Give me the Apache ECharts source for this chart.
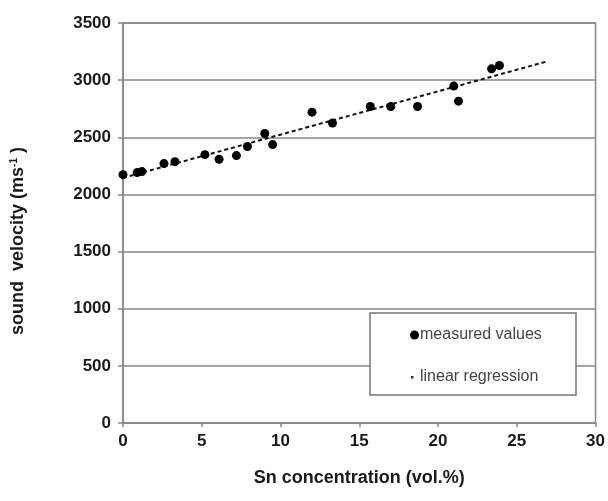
<!DOCTYPE html>
<html>
<head>
<meta charset="utf-8">
<script src="https://cdn.jsdelivr.net/npm/echarts@6/dist/echarts.min.js"></script>
<style>
  html, body { margin: 0; padding: 0; background: #fff; }
  #chart { width: 608px; height: 501px; }
</style>
</head>
<body>
<div id="chart"></div>
<script>
// measured points: Sn content (vol.%) and sound velocity (m/s)
const snContent = [0.0, 0.9, 1.2, 2.6, 3.3, 5.2, 6.1, 7.2, 7.9, 9.0, 9.5, 12.0, 13.3, 15.7, 17.0, 18.7, 21.0, 21.3, 23.4, 23.9]
const soundVelocity = [2173, 2191, 2200, 2270, 2287, 2348, 2308, 2340, 2419, 2533, 2436, 2720, 2624, 2769, 2769, 2769, 2948, 2816, 3099, 3128]

// regression line end points as drawn
const fitX = [0, 26.9]
const fitY = [2145, 3163]

const labelFont = 'Liberation Sans, Arial, sans-serif'
const gridColor = '#878787'

const chart = echarts.init(document.getElementById('chart'))

chart.setOption({
  animation: false,
  grid: {
    left: 123,
    right: 12,
    top: 23,
    bottom: 78,
    show: true,
    borderColor: gridColor,
    borderWidth: 1.5
  },
  xAxis: {
    type: 'value',
    min: 0,
    max: 30,
    interval: 5,
    name: 'Sn concentration (vol.%)',
    nameLocation: 'middle',
    nameGap: 46,
    nameTextStyle: {
      fontFamily: labelFont,
      fontWeight: 'bold',
      fontSize: 18,
      color: '#1a1a1a'
    },
    axisLine: { lineStyle: { color: gridColor, width: 1.5 } },
    axisTick: { show: true, length: 4, lineStyle: { color: gridColor, width: 1.5 } },
    axisLabel: {
      margin: 10,
      fontFamily: labelFont,
      fontWeight: 'bold',
      fontSize: 17,
      color: '#1a1a1a'
    },
    splitLine: { show: false }
  },
  yAxis: {
    type: 'value',
    min: 0,
    max: 3500,
    interval: 500,
    name: 'sound  velocity (ms{sup|-1} )',
    nameLocation: 'middle',
    nameGap: 95,
    nameTextStyle: {
      fontFamily: labelFont,
      fontWeight: 'bold',
      fontSize: 18,
      color: '#1a1a1a',
      padding: [0, 36, 0, 0],
      rich: {
        sup: {
          fontFamily: labelFont,
          fontWeight: 'bold',
          fontSize: 10,
          color: '#1a1a1a',
          padding: [0, 0, 9, 0]
        }
      }
    },
    axisLine: { show: true, lineStyle: { color: gridColor, width: 1.5 } },
    axisTick: { show: true, length: 5, lineStyle: { color: gridColor, width: 1.5 } },
    axisLabel: {
      margin: 12,
      fontFamily: labelFont,
      fontWeight: 'bold',
      fontSize: 17,
      color: '#1a1a1a',
      formatter: (v) => String(v)
    },
    splitLine: { show: true, lineStyle: { color: gridColor, width: 1.5 } }
  },
  graphic: [
    {
      type: 'rect',
      z: 5,
      shape: { x: 370, y: 313, width: 206, height: 82 },
      style: { fill: '#fff', stroke: '#777', lineWidth: 1.5 }
    }
  ],
  legend: {
    z: 10,
    orient: 'vertical',
    left: 405,
    top: 322,
    itemGap: 26,
    itemWidth: 9,
    itemHeight: 9,
    textStyle: {
      fontFamily: labelFont,
      fontSize: 16,
      color: '#444',
      padding: [0, 0, 0, -4]
    },
    data: [
      { name: 'measured values', icon: 'circle', itemStyle: { color: '#000', opacity: 1 } },
      { name: 'linear regression', icon: 'path://M0,0M9,9M1,3.5h2.5v2.5h-2.5z', itemStyle: { color: '#333' } }
    ]
  },
  series: [
    {
      name: 'linear regression',
      type: 'line',
      symbol: 'none',
      z: 2,
      lineStyle: { color: '#111', width: 2, type: [4, 3] },
      data: fitX.map((x, i) => [x, fitY[i]])
    },
    {
      name: 'measured values',
      type: 'scatter',
      symbol: 'circle',
      symbolSize: 9,
      z: 3,
      itemStyle: { color: '#000', opacity: 1 },
      data: snContent.map((x, i) => [x, soundVelocity[i]])
    }
  ]
})
</script>
</body>
</html>
